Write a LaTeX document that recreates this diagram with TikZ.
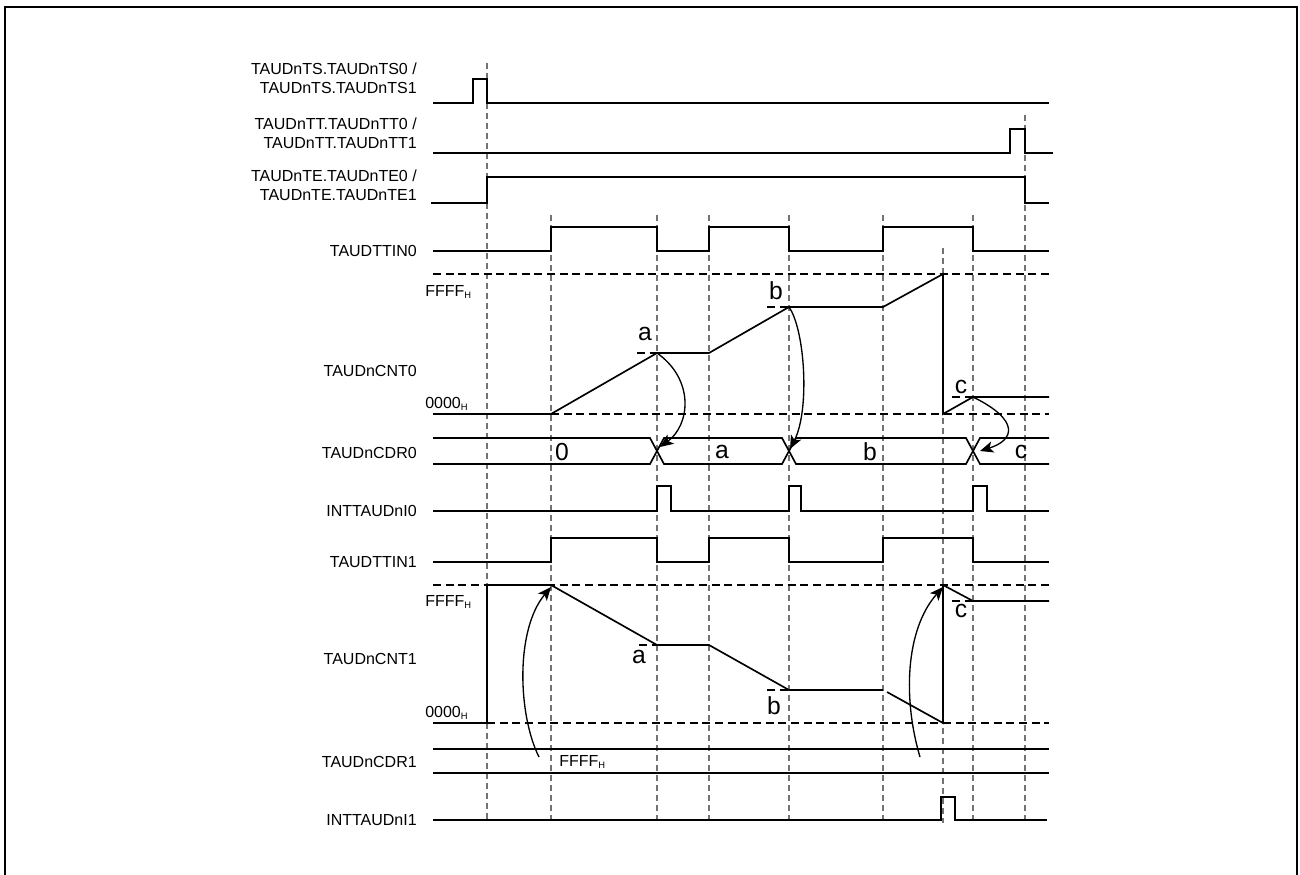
\documentclass[tikz,border=0pt]{standalone}
\usepackage{fontspec}
\setmainfont{Liberation Sans}
\usetikzlibrary{arrows.meta}
\newcommand{\subH}{\raisebox{-2pt}{\fontsize{7}{7}\selectfont H}}
\begin{document}
\begin{tikzpicture}[x=0.75pt,y=-0.75pt,
  sig/.style={line width=1.25pt, line join=miter},
  gridln/.style={draw=black!55, line width=0.8pt, dash pattern=on 4.5pt off 3pt},
  lvl/.style={line width=1pt, dash pattern=on 6pt off 3.5pt},
  lbl/.style={anchor=east, font=\fontsize{12}{14.25}\selectfont, inner sep=0pt, align=right},
  lvltxt/.style={anchor=west, font=\fontsize{12}{13}\selectfont, inner sep=0pt},
  val/.style={font=\fontsize{18.5}{18.5}\selectfont, inner sep=0pt},
  arr/.style={-{Stealth[length=10pt,width=8.5pt,inset=2.5pt]}, line width=1pt}]
\useasboundingbox (0,0) rectangle (1300,875);
% frame
\draw[line width=1.6pt] (5,880) -- (5,7) -- (1297,7) -- (1297,880);
% vertical grid
\foreach \x/\t in {487/63, 551/215, 657/215, 709/215, 789/215, 883/215, 943/248, 973/215, 1025/115}
  \draw[gridln] (\x,\t) -- (\x,823);
% labels
\node[lbl] (lts) at (417,78) {TAUDnTS.TAUDnTS0 /\\TAUDnTS.TAUDnTS1};
\node[lbl] (ltt) at (417,133.5) {TAUDnTT.TAUDnTT0 /\\TAUDnTT.TAUDnTT1};
\node[lbl] (lte) at (417,185.7) {TAUDnTE.TAUDnTE0 /\\TAUDnTE.TAUDnTE1};
\node[lbl] (ltin0) at (417,251) {TAUDTTIN0};
\node[lbl] (lcnt0) at (417,371) {TAUDnCNT0};
\node[lbl] (lcdr0) at (417,453) {TAUDnCDR0};
\node[lbl] (lint0) at (417,511) {INTTAUDnI0};
\node[lbl] (ltin1) at (417,562) {TAUDTTIN1};
\node[lbl] (lcnt1) at (417,659) {TAUDnCNT1};
\node[lbl] (lcdr1) at (417,762) {TAUDnCDR1};
\node[lbl] (lint1) at (417,820) {INTTAUDnI1};
% TS
\draw[sig] (433,103) -- (473,103) -- (473,79) -- (487,79) -- (487,103) -- (1049,103);
% TT
\draw[sig] (433,153) -- (1010,153) -- (1010,129) -- (1025,129) -- (1025,153) -- (1053,153);
% TE
\draw[sig] (431,203) -- (487,203) -- (487,177) -- (1025,177) -- (1025,203) -- (1049,203);
% TTIN0
\draw[sig] (433,251) -- (551,251) -- (551,227) -- (657,227) -- (657,251) -- (709,251) -- (709,227) -- (789,227) -- (789,251) -- (883,251) -- (883,227) -- (973,227) -- (973,251) -- (1049,251);
% CNT0
\draw[lvl] (433,274) -- (1049,274);
\draw[lvl] (551,414) -- (1049,414);
\node[lvltxt] (f0) at (425,292) {FFFF\subH};
\node[lvltxt] (z0) at (425,404) {0000\subH};
\draw[sig] (433,414) -- (551,414) -- (657,353) -- (709,353) -- (789,307) -- (883,307) -- (943,274) -- (943,414) -- (973,397) -- (1049,397);
\draw[lvl] (637,353) -- (657,353);
\draw[lvl] (767,307) -- (789,307);
\draw[lvl] (952,397) -- (973,397);
\node[val] (va0) at (645,334) {a};
\node[val] (vb0) at (776,291) {b};
\node[val] (vc0) at (961,387) {c};
% CDR0
\draw[sig] (433,438) -- (650,438) -- (664,464) -- (782,464) -- (796,438) -- (966,438) -- (980,464) -- (1049,464);
\draw[sig] (433,464) -- (650,464) -- (664,438) -- (782,438) -- (796,464) -- (966,464) -- (980,438) -- (1049,438);
\node[val] (d0) at (562,452) {0};
\node[val] (da) at (722,452) {a};
\node[val] (db) at (870,452) {b};
\node[val] (dc) at (1021,452) {c};
% arrows CNT0 -> CDR0
\coordinate (a0s) at (657,353); \coordinate (a0e) at (660,447);
\coordinate (b0s) at (789,307); \coordinate (b0e) at (790,449);
\coordinate (c0s) at (973,397); \coordinate (c0e) at (980,451);
\draw[arr] (a0s) .. controls (695,380) and (690,425) .. (a0e);
\draw[arr] (b0s) .. controls (805,330) and (810,410) .. (b0e);
\draw[arr] (c0s) .. controls (1020,420) and (1015,440) .. (c0e);
% INT0
\draw[sig] (433,511) -- (657,511) -- (657,486) -- (671,486) -- (671,511) -- (789,511) -- (789,486) -- (801,486) -- (801,511) -- (973,511) -- (973,486) -- (987,486) -- (987,511) -- (1049,511);
% TTIN1
\draw[sig] (433,562) -- (551,562) -- (551,538) -- (657,538) -- (657,562) -- (709,562) -- (709,538) -- (789,538) -- (789,562) -- (883,562) -- (883,538) -- (973,538) -- (973,562) -- (1049,562);
% CNT1
\draw[lvl] (433,585) -- (1049,585);
\draw[lvl] (487,723) -- (1049,723);
\node[lvltxt] (f1) at (425,602) {FFFF\subH};
\node[lvltxt] (z1) at (425,713) {0000\subH};
\draw[sig] (433,723) -- (487,723) -- (487,585) -- (551,585) -- (657,645) -- (709,645) -- (789,690) -- (883,690);
\draw[sig] (887,692) -- (943,723) -- (943,585) -- (973,601) -- (1049,601);
\draw[lvl] (639,645) -- (657,645);
\draw[lvl] (767,690) -- (789,690);
\draw[lvl] (952,601) -- (973,601);
\node[val] (va1) at (639,657) {a};
\node[val] (vb1) at (774,706) {b};
\node[val] (vc1) at (961,611) {c};
% arrows CDR1 -> CNT1
\coordinate (a1s) at (539,757); \coordinate (a1e) at (551,587);
\coordinate (b1s) at (920,757); \coordinate (b1e) at (943,587);
\draw[arr] (a1s) .. controls (518,715) and (515,630) .. (a1e);
\draw[arr] (b1s) .. controls (903,700) and (905,630) .. (b1e);
% CDR1
\draw[sig] (433,749) -- (1049,749);
\draw[sig] (433,773) -- (1049,773);
\node[lvltxt] (fc1) at (559,762) {FFFF\subH};
% INT1
\draw[sig] (433,820) -- (941,820) -- (941,797) -- (955,797) -- (955,820) -- (1047,820);
\end{tikzpicture}
\end{document}
